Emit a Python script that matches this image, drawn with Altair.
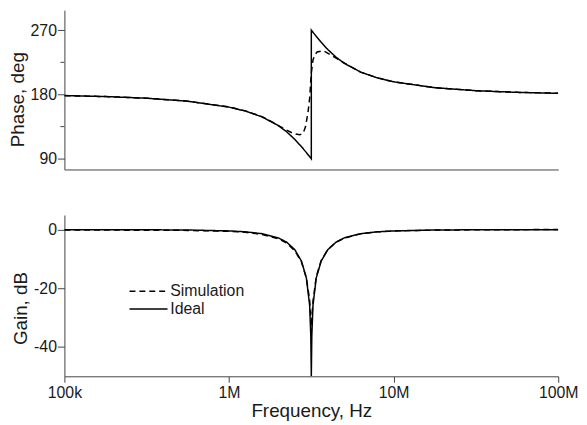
import altair as alt
import pandas as pd

# ---------------- data ----------------
ideal_freq = [100000, 177828, 316228, 562341, 1000000, 1258925, 1584893, 1995262,
              2238721, 2511886, 2754229, 2951209, 3090295, 3140509, 3162278, 3162278,
              3184198, 3235937, 3388442, 3630781, 3981072, 4466836, 5011872, 6309573,
              7943282, 10000000, 17782794, 31622777, 56234133, 100000000]
ideal_phase = [178.35, 177.06, 174.75, 170.52, 162.29, 156.73, 148.68, 136.38, 127.78,
               117.07, 106.96, 98.65, 92.90, 90.87, 90.0, 270.0, 269.13, 267.10, 261.35,
               253.04, 242.93, 232.22, 223.62, 211.32, 203.27, 197.71, 189.48, 185.25,
               182.94, 181.65]
ideal_gain = [-0.004, -0.011, -0.036, -0.119, -0.422, -0.737, -1.368, -2.806, -4.257,
              -6.838, -10.703, -16.457, -25.917, -36.366, -50.0, -50.0, -36.366, -25.917,
              -16.457, -10.703, -6.838, -4.257, -2.806, -1.368, -0.737, -0.422, -0.119,
              -0.036, -0.011, -0.004]

sim_phase_freq = [100000, 177828, 316228, 562341, 1000000, 1258925, 1584893, 1862087,
                  2137962, 2454709, 2691535, 2818383, 2917427, 3019952, 3090295, 3162278,
                  3235937, 3311311, 3427678, 3758374, 4216965, 4731513, 5432503, 6309573,
                  7943282, 10000000, 17782794, 31622777, 56234133, 100000000]
sim_phase = [178.4, 177.1, 174.8, 170.6, 162.5, 157.0, 149.0, 140.5, 132.5, 125.5, 123.5,
             125.5, 135.0, 155.0, 175.0, 210.0, 228.0, 235.0, 239.5, 241.0, 234.5, 227.5,
             219.5, 211.3, 203.3, 197.7, 189.5, 185.3, 183.0, 181.7]

sim_gain_freq = [100000, 177828, 316228, 562341, 1000000, 1258925, 1584893, 1995262,
                 2238721, 2511886, 2754229, 2951209, 3090295, 3162278, 3235937, 3388442,
                 3630781, 3981072, 4466836, 5011872, 6309573, 7943282, 10000000, 17782794,
                 31622777, 56234133, 100000000]
sim_gain = [-0.15, -0.15, -0.17, -0.25, -0.55, -0.9, -1.6, -3.1, -4.6, -7.2, -11.0, -16.5,
            -24.0, -33.0, -24.5, -16.0, -10.5, -6.8, -4.3, -2.9, -1.4, -0.75, -0.45, -0.15,
            -0.06, 0.0, 0.05]

series_names = ["Simulation", "Ideal"]
x_tick_values = [100000, 1000000, 10000000, 100000000]
x_tick_labels = ["100k", "1M", "10M", "100M"]
phase_major = [90, 180, 270]
phase_minor = [135, 225]
gain_ticks = [-40, -20, 0]

# ---------------- tables ----------------
def table(freqs, vals, name):
    return pd.DataFrame({"freq": freqs, "val": vals, "series": name,
                         "idx": list(range(len(freqs)))})

phase_df = pd.concat([table(sim_phase_freq, sim_phase, "Simulation"),
                      table(ideal_freq, ideal_phase, "Ideal")], ignore_index=True)
gain_df = pd.concat([table(sim_gain_freq, sim_gain, "Simulation"),
                     table(ideal_freq, ideal_gain, "Ideal")], ignore_index=True)
minor_df = pd.DataFrame({"val": phase_minor})

x_label_expr = " : ".join(
    f"datum.value == {v} ? '{l}'" for v, l in zip(x_tick_values, x_tick_labels)
) + " : ''"

FONT = "Liberation Sans"
TXT = "#1a1a1a"
AX = "#444444"
W = 499
H_TOP = 161
H_BOT = 163

xscale = alt.Scale(type="log", domain=[1e5, 1e8], nice=False)
phase_scale = alt.Scale(domain=[75, 298], nice=False, zero=False)
dash_scale = alt.Scale(domain=series_names, range=[[6, 4], [1, 0]])

common_axis = dict(grid=False, domainColor=AX, tickColor=AX, labelColor=TXT,
                   titleColor=TXT, labelFont=FONT, titleFont=FONT, labelFontSize=16,
                   titleFontSize=19, titleFontWeight="normal")

phase_lines = alt.Chart(phase_df).mark_line(color="black", strokeWidth=1.5, clip=True).encode(
    x=alt.X("freq:Q", scale=xscale,
            axis=alt.Axis(labels=False, ticks=False, title=None, **common_axis)),
    y=alt.Y("val:Q", scale=phase_scale,
            axis=alt.Axis(values=phase_major, labelExpr="'' + datum.value", tickSize=7,
                          labelPadding=1, title="Phase, deg", titlePadding=3, titleY=90,
                          **common_axis)),
    strokeDash=alt.StrokeDash("series:N", scale=dash_scale, legend=None),
    order="idx:Q",
)

minor_ticks = alt.Chart(minor_df).mark_rule(color=AX, strokeWidth=1).encode(
    y=alt.Y("val:Q", scale=phase_scale),
    x=alt.value(-4),
    x2=alt.value(0),
)

top = alt.layer(phase_lines, minor_ticks).properties(width=W, height=H_TOP)

bottom = alt.Chart(gain_df).mark_line(color="black", strokeWidth=1.5, clip=True).encode(
    x=alt.X("freq:Q", scale=xscale,
            axis=alt.Axis(values=x_tick_values, labelExpr=x_label_expr, tickSize=6,
                          labelPadding=2, title="Frequency, Hz", titlePadding=2,
                          labelFlush=False, **common_axis)),
    y=alt.Y("val:Q", scale=alt.Scale(domain=[-50, 5], nice=False, zero=False),
            axis=alt.Axis(values=gain_ticks, labelExpr="'' + datum.value", tickSize=7,
                          labelPadding=1, title="Gain, dB", titlePadding=3, titleY=94,
                          **common_axis)),
    strokeDash=alt.StrokeDash(
        "series:N", scale=dash_scale,
        legend=alt.Legend(orient="none", legendX=77, legendY=69, title=None,
                          symbolType="M-3,0H3", symbolSize=164, symbolStrokeWidth=1.5,
                          symbolStrokeColor="black", symbolFillColor="transparent",
                          labelFont=FONT, labelFontSize=16,
                          labelColor=TXT, labelOffset=14, rowPadding=2, padding=0)),
    order="idx:Q",
).properties(width=W, height=H_BOT)

chart = alt.vconcat(top, bottom, spacing=46).resolve_scale(
    strokeDash="independent").resolve_legend(strokeDash="independent").configure_view(
    stroke=None).properties(padding={"left": 0, "top": 0, "right": 0, "bottom": 0},
                            background="white")

chart.save("out.html", embed_options={"renderer": "svg", "actions": False})
